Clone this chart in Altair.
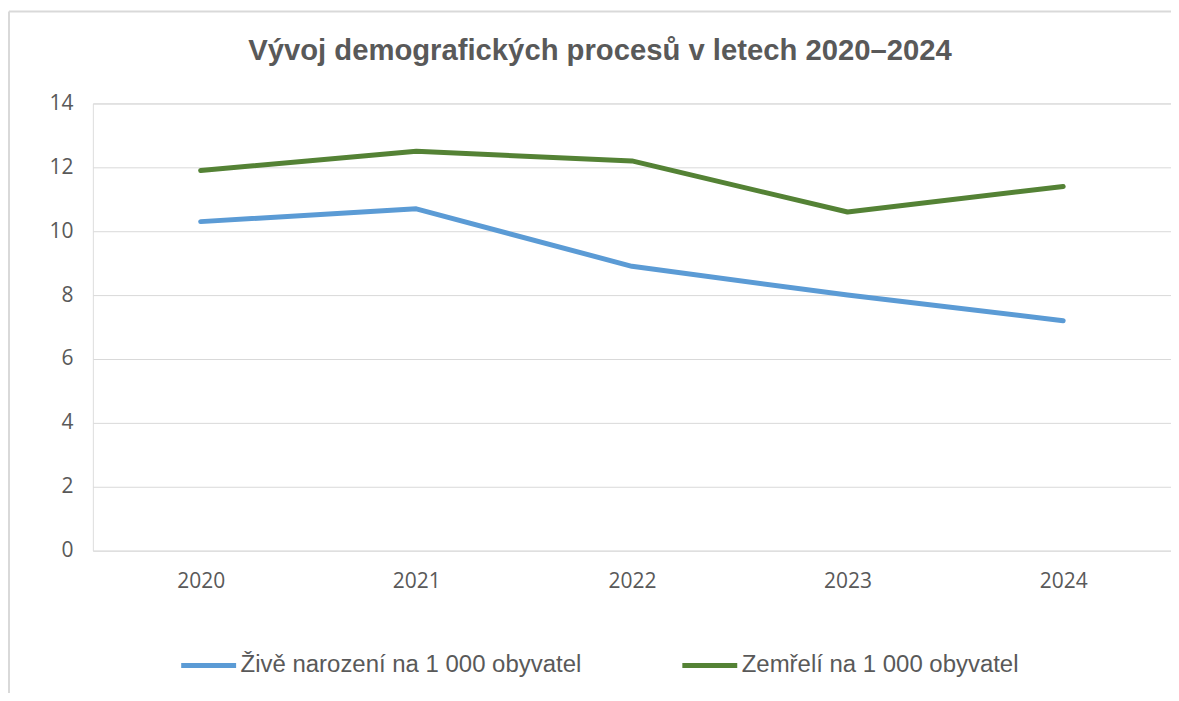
import altair as alt
import pandas as pd

years = ["2020", "2021", "2022", "2023", "2024"]
births = [10.3, 10.7, 8.9, 8.0, 7.2]
deaths = [11.9, 12.5, 12.2, 10.6, 11.4]
series_names = ["Živě narození na 1 000 obyvatel", "Zemřelí na 1 000 obyvatel"]
series_colors = ["#5B9BD5", "#548235"]
y_ticks = [0, 2, 4, 6, 8, 10, 12, 14]
title_text = "Vývoj demografických procesů v letech 2020–2024"

rows = []
for name, vals in zip(series_names, [births, deaths]):
    for yr, v in zip(years, vals):
        rows.append({"rok": yr, "hodnota": v, "rada": name})
df = pd.DataFrame(rows)

lines = alt.Chart(df).mark_line(strokeWidth=5, strokeCap="round", strokeJoin="round").encode(
    x=alt.X("rok:N", sort=years,
            scale=alt.Scale(type="point", padding=0.5),
            axis=alt.Axis(title=None, labelAngle=0, domain=False, ticks=False,
                          labelPadding=20, labelFontSize=21, labelFont="Open Sans",
                          labelColor="#595959", grid=False)),
    y=alt.Y("hodnota:Q",
            scale=alt.Scale(domain=[0, 14], nice=False),
            axis=alt.Axis(title=None, values=y_ticks, domain=False, ticks=False,
                          labelPadding=20, labelFontSize=21, labelFont="Open Sans",
                          labelColor="#595959", grid=True, gridColor="#D9D9D9",
                          gridWidth=1)),
    color=alt.Color("rada:N", sort=series_names,
                    scale=alt.Scale(domain=series_names, range=series_colors),
                    legend=alt.Legend(title=None, orient="none", legendX=86, legendY=533,
                                      direction="horizontal", symbolType="stroke",
                                      symbolSize=3025, symbolStrokeWidth=5,
                                      labelFontSize=24, labelFont="Liberation Sans",
                                      labelColor="#595959", labelOffset=2,
                                      columnPadding=90, labelLimit=600)),
)

frame_data = alt.Data(values=[{"k": 1}])
left_border = alt.Chart(frame_data).mark_rule(color="#D9D9D9", strokeWidth=2).encode(
    x=alt.value(-84), y=alt.value(-92), y2=alt.value(620))
top_border = alt.Chart(frame_data).mark_rule(color="#D9D9D9", strokeWidth=2).encode(
    y=alt.value(-92), x=alt.value(-84), x2=alt.value(1100))
title = alt.Chart(alt.Data(values=[{"t": title_text}])).mark_text(
    font="Liberation Sans", fontSize=29.3, fontWeight="bold", color="#595959",
    align="center", baseline="alphabetic").encode(
    text="t:N", x=alt.value(508), y=alt.value(-43))

chart = alt.layer(left_border, top_border, title, lines).properties(
    width=1080, height=448,
    autosize=alt.AutoSizeParams(type="none"),
    padding={"left": 85, "top": 95, "right": 0, "bottom": 142},
).configure_view(stroke=None).configure(background="white")

chart.save("out.html", embed_options={"renderer": "svg", "actions": False})
